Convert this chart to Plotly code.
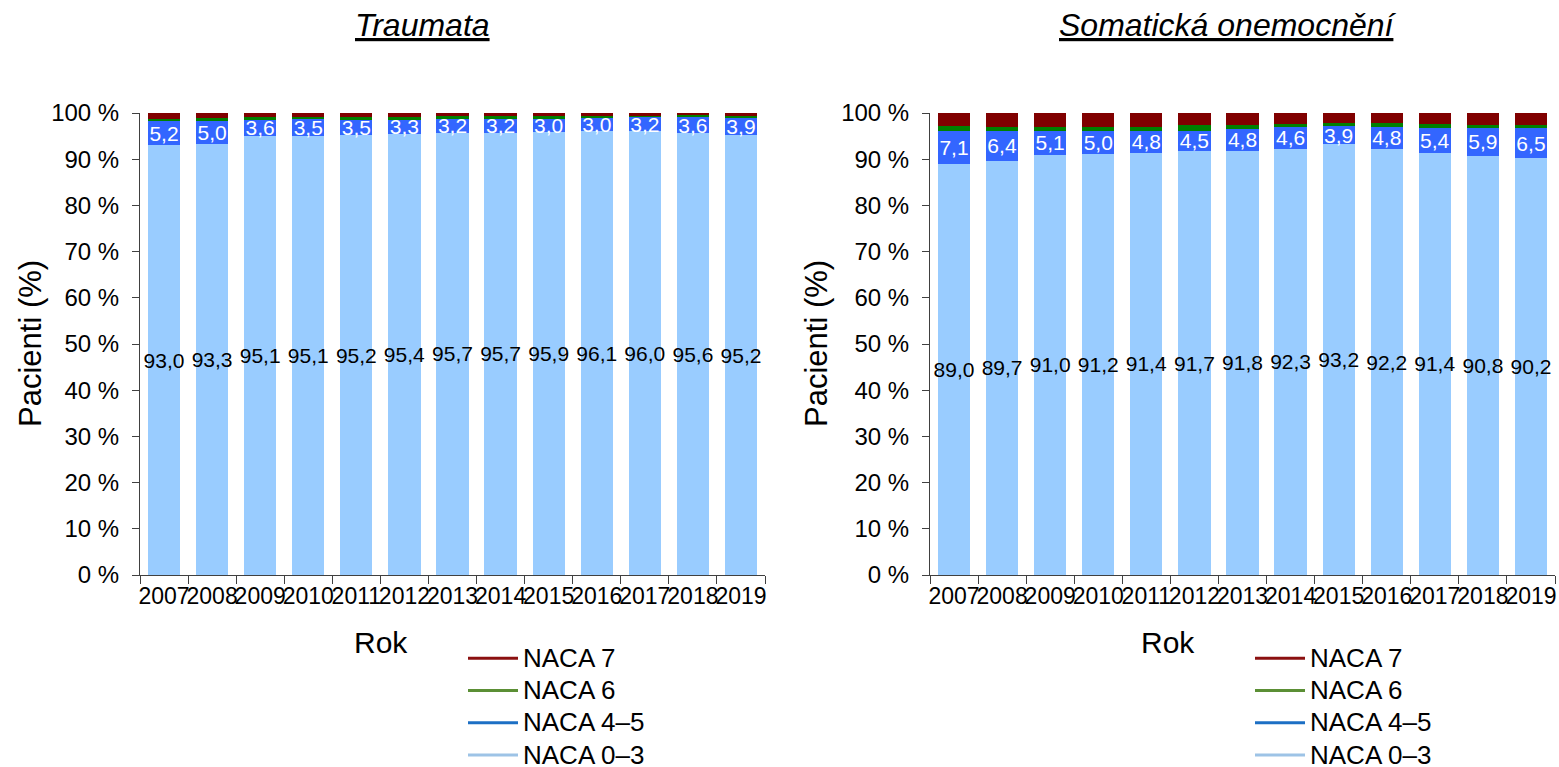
import plotly.graph_objects as go

years = [str(y) for y in range(2007, 2020)]

# Traumata
tr_naca03 = [93.0, 93.3, 95.1, 95.1, 95.2, 95.4, 95.7, 95.7, 95.9, 96.1, 96.0, 95.6, 95.2]
tr_naca45 = [5.2, 5.0, 3.6, 3.5, 3.5, 3.3, 3.2, 3.2, 3.0, 3.0, 3.2, 3.6, 3.9]
tr_naca6 = [0.6, 0.6, 0.4, 0.5, 0.4, 0.4, 0.4, 0.4, 0.4, 0.3, 0.2, 0.3, 0.3]
tr_naca7 = [1.2, 1.1, 0.9, 0.9, 0.9, 0.9, 0.7, 0.7, 0.7, 0.6, 0.6, 0.5, 0.6]

# Somatická onemocnění
so_naca03 = [89.0, 89.7, 91.0, 91.2, 91.4, 91.7, 91.8, 92.3, 93.2, 92.2, 91.4, 90.8, 90.2]
so_naca45 = [7.1, 6.4, 5.1, 5.0, 4.8, 4.5, 4.8, 4.6, 3.9, 4.8, 5.4, 5.9, 6.5]
so_naca6 = [1.1, 0.9, 0.8, 0.8, 0.8, 1.1, 0.9, 0.8, 0.7, 0.8, 0.8, 0.8, 0.8]
so_naca7 = [2.8, 3.0, 3.1, 3.0, 3.0, 2.7, 2.5, 2.3, 2.2, 2.2, 2.4, 2.5, 2.5]

series_names = ["NACA 0–3", "NACA 4–5", "NACA 6", "NACA 7"]
bar_colors = ["#99CCFF", "#3366FF", "#008000", "#800000"]
legend_colors = ["#9DC3E6", "#1C6FC4", "#5B8F35", "#8B1010"]
text_colors = ["black", "white", None, None]

panels = [
    ("Traumata", [tr_naca03, tr_naca45, tr_naca6, tr_naca7], "x", "y", "legend"),
    ("Somatická onemocnění", [so_naca03, so_naca45, so_naca6, so_naca7], "x2", "y2", "legend2"),
]

FONT = "Liberation Sans, Arial, sans-serif"
fig = go.Figure()

for title, data, xa, ya, lg in panels:
    for name, vals, col, tcol in zip(series_names, data, bar_colors, text_colors):
        kw = {}
        if tcol:
            kw = dict(texttemplate="%{y:.1f}", textposition="inside", insidetextanchor="middle",
                      textangle=0, textfont=dict(color=tcol, size=21, family=FONT))
        fig.add_trace(go.Bar(x=years, y=vals, name=name, marker_color=col,
                             marker_line_width=0, showlegend=False,
                             xaxis=xa, yaxis=ya, cliponaxis=False, **kw))
    for name, col in reversed(list(zip(series_names, legend_colors))):
        fig.add_trace(go.Scatter(x=[None], y=[None], mode="lines",
                                 name=f"<span style='font-size:26px'>{name}</span>",
                                 line=dict(color=col, width=3), xaxis=xa, yaxis=ya,
                                 legend=lg, showlegend=True, hoverinfo="skip"))

W, H = 1559, 767
def px(xp): return xp / W
def py(yp): return 1 - yp / H

axis_common_x = dict(type="category", showline=True, linecolor="#404040", linewidth=1,
                     ticks="outside", ticklen=8, tickcolor="#404040", tickson="boundaries",
                     showgrid=False, tickfont=dict(size=23, family=FONT, color="black"),
                     tickangle=0)
axis_common_y = dict(range=[0, 100], dtick=10, ticksuffix=" %", showline=True,
                     linecolor="#404040", linewidth=1, ticks="outside", ticklen=7,
                     tickcolor="#404040", showgrid=False, zeroline=False,
                     ticklabelstandoff=8,
                     tickfont=dict(size=24, family=FONT, color="black"))

legend_common = dict(font=dict(size=22.5, family=FONT, color="black"), bgcolor="rgba(0,0,0,0)",
                     yanchor="top", xanchor="left", traceorder="normal",
                     tracegroupgap=0, itemwidth=50)

ann = dict(xref="paper", yref="paper", showarrow=False, xanchor="center", yanchor="middle")

fig.update_layout(
    width=W, height=H,
    barmode="stack", bargap=0.33,
    separators=", ",
    plot_bgcolor="white", paper_bgcolor="white",
    margin=dict(l=0, r=0, t=0, b=0, autoexpand=False),
    font=dict(family=FONT, color="black"),
    xaxis=dict(domain=[px(140), px(765)], anchor="y", **axis_common_x),
    yaxis=dict(domain=[py(575), py(113)], anchor="x", **axis_common_y),
    xaxis2=dict(domain=[px(930), px(1555)], anchor="y2", **axis_common_x),
    yaxis2=dict(domain=[py(575), py(113)], anchor="x2", **axis_common_y),
    legend=dict(x=px(463), y=py(637), **legend_common),
    legend2=dict(x=px(1250), y=py(637), **legend_common),
    uniformtext=dict(minsize=21, mode="show"),
    annotations=[
        dict(text="<i><u>Traumata</u></i>", x=px(422), y=py(25),
             font=dict(size=32, family=FONT), **ann),
        dict(text="<i><u>Somatická onemocnění</u></i>", x=px(1228), y=py(25),
             font=dict(size=32, family=FONT), **ann),
        dict(text="Pacienti (%)", x=px(30), y=py(344), textangle=-90,
             font=dict(size=31, family=FONT), **ann),
        dict(text="Pacienti (%)", x=px(816), y=py(344), textangle=-90,
             font=dict(size=31, family=FONT), **ann),
        dict(text="Rok", x=px(381), y=py(642), font=dict(size=30, family=FONT), **ann),
        dict(text="Rok", x=px(1168), y=py(642), font=dict(size=30, family=FONT), **ann),
    ],
)

fig.write_html("out.html", config={"displayModeBar": False},
               post_script="document.body.style.margin='0';document.body.style.overflow='hidden';")
